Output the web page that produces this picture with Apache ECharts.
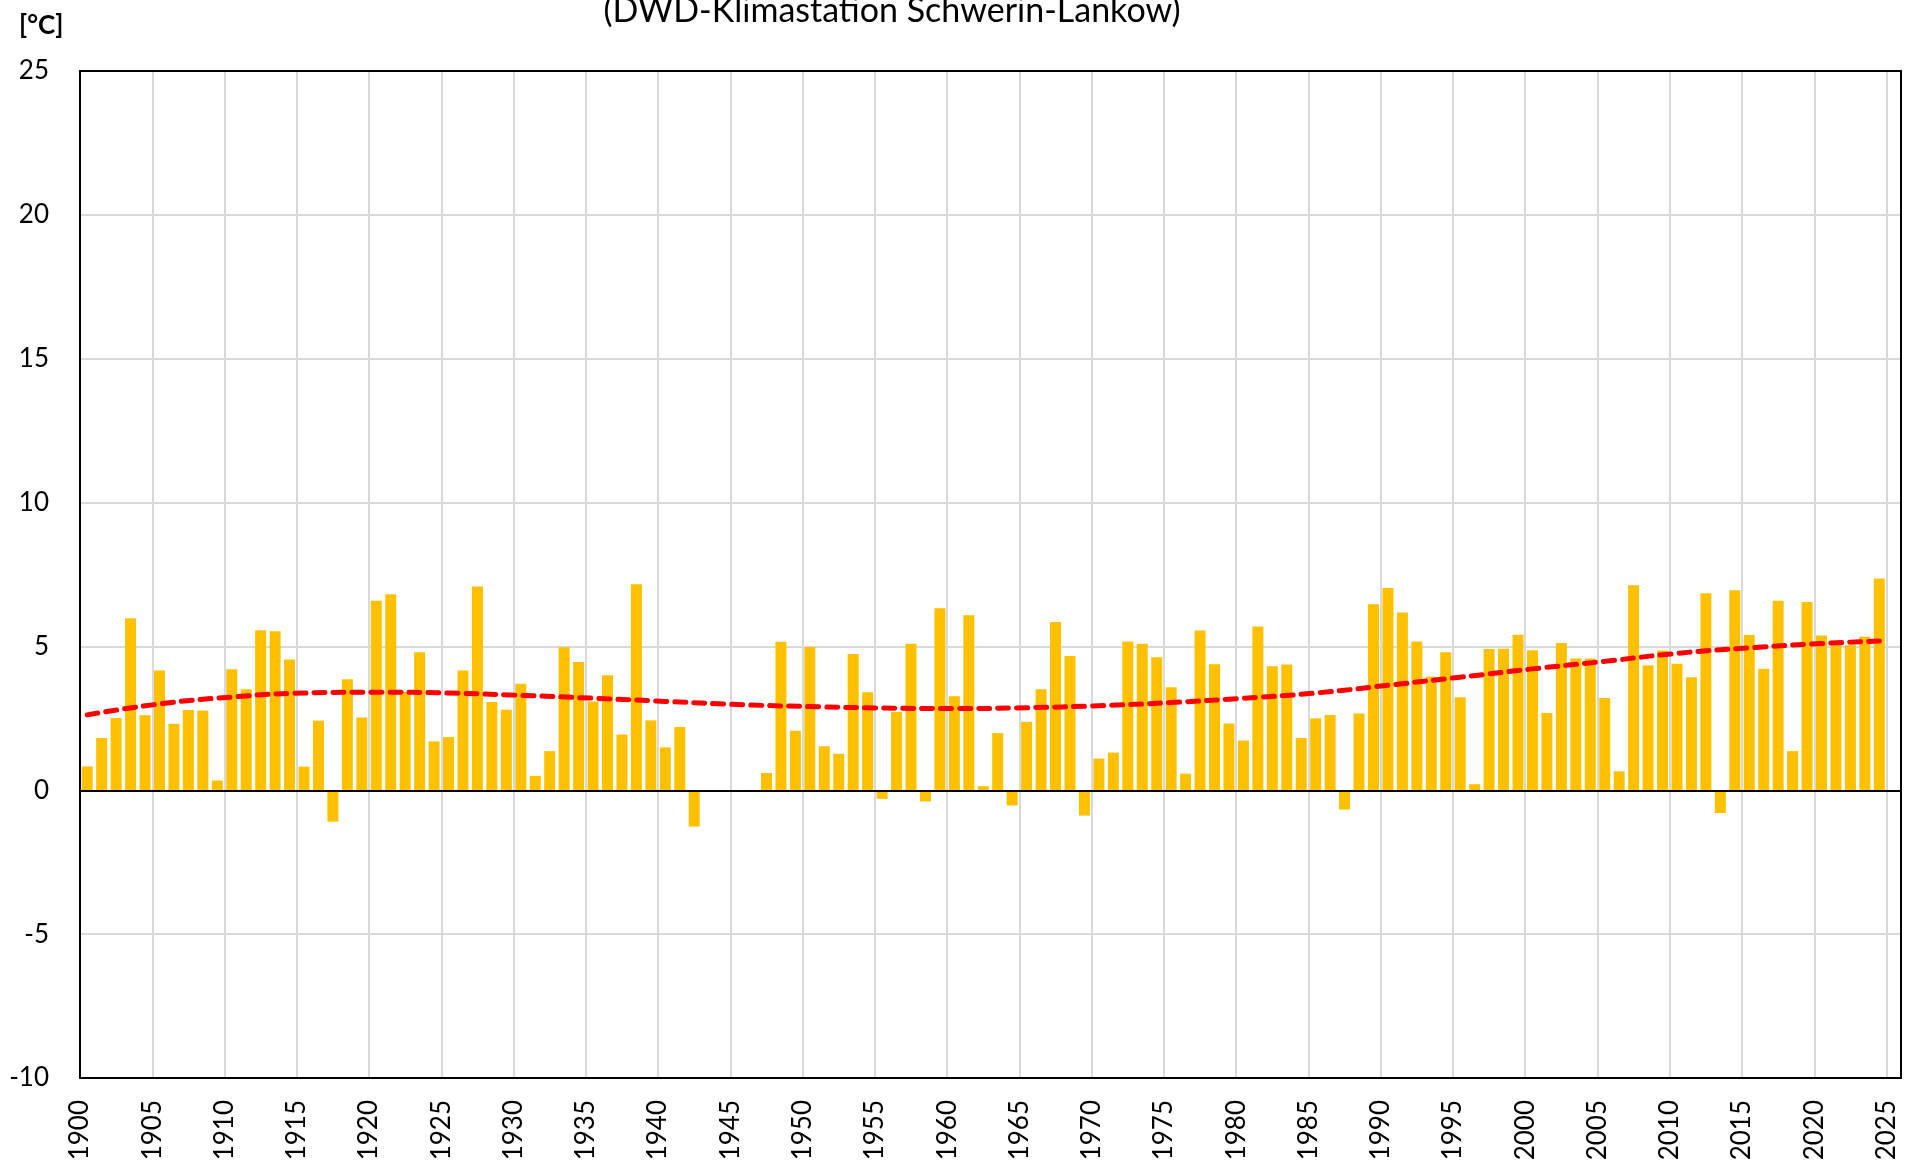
<!DOCTYPE html>
<html>
<head>
<meta charset="utf-8">
<title>Schwerin-Lankow</title>
<script src="https://cdn.jsdelivr.net/npm/echarts@6/dist/echarts.min.js"></script>
<style>
  html, body { margin: 0; padding: 0; background: #fff; }
  #chart { width: 1920px; height: 1171px; }
</style>
</head>
<body>
<div id="chart"></div>
<script>
// Jahre 1900..2024, null = keine Messung (1943-1946)
const years = []
for (let y = 1900; y <= 2024; y++) years.push(y)

const temps = [
  0.83, 1.82, 2.51, 5.98, 2.61, 4.16, 2.31, 2.79, 2.77, 0.34,
  4.21, 3.51, 5.56, 5.53, 4.55, 0.82, 2.42, -1.09, 3.86, 2.53,
  6.59, 6.81, 3.42, 4.80, 1.70, 1.85, 4.16, 7.08, 3.07, 2.80,
  3.70, 0.50, 1.36, 4.97, 4.46, 3.09, 4.00, 1.94, 7.16, 2.43,
  1.49, 2.20, -1.26, null, null, null, null, 0.60, 5.16, 2.07,
  4.98, 1.53, 1.27, 4.74, 3.41, -0.30, 2.72, 5.09, -0.39, 6.33,
  3.27, 6.08, 0.14, 1.99, -0.53, 2.38, 3.51, 5.85, 4.67, -0.88,
  1.10, 1.31, 5.17, 5.09, 4.62, 3.58, 0.58, 5.55, 4.38, 2.32,
  1.73, 5.69, 4.31, 4.37, 1.82, 2.50, 2.62, -0.67, 2.67, 6.47,
  7.03, 6.18, 5.17, 3.95, 4.80, 3.23, 0.21, 4.91, 4.92, 5.41,
  4.87, 2.69, 5.12, 4.58, 4.58, 3.21, 0.66, 7.13, 4.35, 4.86,
  4.40, 3.93, 6.85, -0.79, 6.95, 5.40, 4.22, 6.59, 1.36, 6.54,
  5.38, 5.15, 5.04, 5.34, 7.36,
]

const trendYears = [1900, 1905, 1910, 1915, 1920, 1925, 1930, 1935, 1940, 1945, 1950, 1955, 1960,
  1965, 1970, 1975, 1980, 1985, 1990, 1995, 2000, 2005, 2010, 2015, 2020, 2024]
const trendValues = [2.62, 3.00, 3.24, 3.38, 3.41, 3.38, 3.30, 3.20, 3.09, 2.98, 2.91, 2.86, 2.84,
  2.87, 2.94, 3.05, 3.20, 3.38, 3.65, 3.93, 4.22, 4.48, 4.76, 4.95, 5.10, 5.19]

const yTicks = { min: -10, max: 25, step: 5 }

const font = 'Lato'
const chart = echarts.init(document.getElementById('chart'))

// Balken mittig im Jahr (Jahr + 0.5)
const barData = years.map((y, i) => [y + 0.5, temps[i]])
const trendData = trendYears.map((y, i) => [y + 0.5, trendValues[i]])

const frameLine = { show: true, onZero: false, lineStyle: { color: '#000', width: 2 } }

chart.setOption({
  animation: false,
  textStyle: { fontFamily: font },
  graphic: [
    {
      type: 'text',
      x: 892,
      y: 28,
      style: {
        text: '(DWD-Klimastation Schwerin-Lankow)',
        font: '34px Lato',
        fill: '#000',
        align: 'center',
        verticalAlign: 'bottom',
      },
    },
    {
      type: 'text',
      x: 19,
      y: 13,
      style: {
        text: '[°C]',
        font: 'bold 26px Lato',
        fill: '#000',
      },
    },
  ],
  grid: {
    left: 80,
    right: 19,
    top: 71,
    bottom: 93,
  },
  xAxis: [
    {
      type: 'value',
      min: 1900,
      max: 2026,
      interval: 5,
      axisLine: frameLine,
      axisTick: { show: false },
      splitLine: { lineStyle: { color: '#d9d9d9', width: 2 } },
      axisLabel: {
        rotate: 90,
        margin: 22,
        fontSize: 26,
        color: '#000',
        fontFamily: font,
        formatter: v => (v % 5 === 0 ? String(v) : ''),
      },
    },
    {
      // nur Rahmen oben
      type: 'value',
      position: 'top',
      min: 1900,
      max: 2026,
      axisLine: frameLine,
      axisTick: { show: false },
      axisLabel: { show: false },
      splitLine: { show: false },
    },
  ],
  yAxis: [
    {
      type: 'value',
      min: yTicks.min,
      max: yTicks.max,
      interval: yTicks.step,
      axisLine: frameLine,
      axisTick: { show: false },
      splitLine: { lineStyle: { color: '#d9d9d9', width: 2 } },
      axisLabel: { fontSize: 26, color: '#000', margin: 31, fontFamily: font },
    },
    {
      // nur Rahmen rechts
      type: 'value',
      position: 'right',
      min: yTicks.min,
      max: yTicks.max,
      axisLine: frameLine,
      axisTick: { show: false },
      axisLabel: { show: false },
      splitLine: { show: false },
    },
  ],
  series: [
    {
      type: 'bar',
      data: barData,
      barWidth: 11,
      itemStyle: { color: '#FFC000' },
      markLine: {
        silent: true,
        symbol: 'none',
        label: { show: false },
        lineStyle: { color: '#000', width: 2, type: 'solid' },
        data: [{ yAxis: 0 }],
      },
    },
    {
      type: 'line',
      data: trendData,
      smooth: true,
      showSymbol: false,
      lineStyle: { color: '#FF0000', width: 5, type: [11, 8], cap: 'round' },
      z: 5,
    },
  ],
})
</script>
</body>
</html>
